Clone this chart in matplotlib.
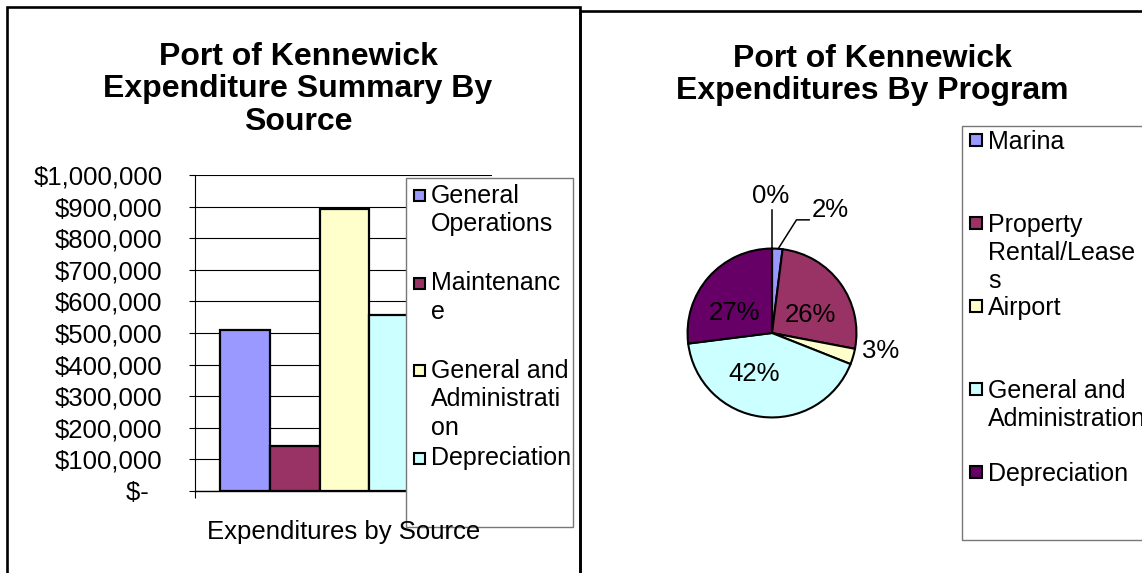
import numpy as np
import matplotlib
matplotlib.use("Agg")
import matplotlib.pyplot as plt
from matplotlib.patches import Rectangle
from matplotlib.ticker import FuncFormatter

plt.rcParams['font.family'] = ['Liberation Sans', 'DejaVu Sans']

# ---------------- data ----------------
bar_categories = ["General Operations", "Maintenance",
                  "General and Administration", "Depreciation"]
bar_legend_lines = [["General", "Operations"], ["Maintenanc", "e"],
                    ["General and", "Administrati", "on"], ["Depreciation"]]
bar_values = [510000, 140000, 894000, 557000]
bar_colors = ["#9999FF", "#993366", "#FFFFCC", "#CCFFFF"]
bar_title = "Port of Kennewick\nExpenditure Summary By\nSource"
bar_xlabel = "Expenditures by Source"
yticks = list(range(0, 1000001, 100000))

pie_categories = ["Marina", "Property Rental/Leases", "Airport",
                  "General and Administration", "Depreciation", ""]
pie_legend_lines = [["Marina"], ["Property", "Rental/Lease", "s"], ["Airport"],
                    ["General and", "Administration"], ["Depreciation"]]
pie_values = [2, 26, 3, 42, 27, 0]
pie_colors = ["#9999FF", "#993366", "#FFFFCC", "#CCFFFF", "#660066", "#FF8080"]
pie_title = "Port of Kennewick\nExpenditures By Program"

# label placement (style, in pie-radius units)
pie_label_xy = [(0.69, 1.46), (0.45, 0.21), (1.29, -0.21),
                (-0.21, -0.49), (-0.45, 0.24), (-0.02, 1.62)]
pie_leaders = {0: [(0.075, 1.0), (0.29, 1.34), (0.44, 1.34)],
               5: [(0.0, 0.98), (0.0, 1.46)]}

W, H = 1142, 573
fig = plt.figure(figsize=(W / 100, H / 100), dpi=100)


def fx(x):
    return x / W


def fy(y):
    return 1 - y / H


# panel borders
fig.add_artist(Rectangle((fx(7), fy(620)), fx(580) - fx(7), fy(7) - fy(620),
                         transform=fig.transFigure, fill=False,
                         edgecolor='black', linewidth=1.9, zorder=0))
fig.add_artist(Rectangle((fx(580), fy(620)), fx(1180) - fx(580), fy(11) - fy(620),
                         transform=fig.transFigure, fill=False,
                         edgecolor='black', linewidth=1.9, zorder=0))

# ---------------- bar chart ----------------
ax1 = fig.add_axes([fx(195), fy(490.6), fx(492) - fx(195), fy(175.4) - fy(490.6)])
ax1.bar(np.arange(len(bar_values)), bar_values, width=1.0, color=bar_colors,
        edgecolor='black', linewidth=1.6, zorder=3)
ax1.set_xlim(-1.0, 4.96)
ax1.set_ylim(0, 1000000)
ax1.set_yticks(yticks)
ax1.yaxis.set_major_formatter(FuncFormatter(
    lambda v, p: "$-  " if v == 0 else "${:,.0f}".format(v)))
ax1.yaxis.grid(True, color='black', linewidth=0.8)
ax1.set_axisbelow(True)
for s in ['top', 'right']:
    ax1.spines[s].set_visible(False)
ax1.spines['left'].set_linewidth(0.8)
ax1.spines['bottom'].set_linewidth(1.0)
ax1.tick_params(axis='y', length=4.3, width=0.8, pad=19, labelsize=18.5)
ax1.set_xticks([-1.0])
ax1.set_xticklabels([""])
ax1.tick_params(axis='x', length=5.2, width=0.8)

fig.text(fx(298), fy(89.5), bar_title, ha='center', va='center',
         fontsize=23, fontweight='bold', linespacing=1.12)

# left legend
fig.add_artist(Rectangle((fx(406), fy(526.5)), fx(573) - fx(406), fy(178.4) - fy(526.5),
                         transform=fig.transFigure, facecolor='white',
                         edgecolor='#777777', linewidth=1.0, zorder=2))
for i, (lines, col) in enumerate(zip(bar_legend_lines, bar_colors)):
    yc = 193.7 + i * 87.5
    fig.add_artist(Rectangle((fx(414), fy(yc + 2 + 5.5)), fx(11), 11 / H,
                             transform=fig.transFigure, facecolor=col,
                             edgecolor='black', linewidth=1.5, zorder=3))
    for j, t in enumerate(lines):
        fig.text(fx(431), fy(yc + j * 28.7 + 9), t, ha='left', va='baseline',
                 fontsize=18, zorder=3)

fig.text(fx(343.5), fy(531.8), bar_xlabel, ha='center', va='center',
         fontsize=18.5, zorder=4)

# ---------------- pie chart ----------------
ax2 = fig.add_axes([fx(620), fy(485), fx(924) - fx(620), fy(181) - fy(485)])
ax2.pie(pie_values, colors=pie_colors, startangle=90, counterclock=False,
        radius=1.0, wedgeprops=dict(edgecolor='black', linewidth=1.5))
ax2.set_xlim(-1.8, 1.8)
ax2.set_ylim(-1.8, 1.8)
ax2.set_aspect('equal')
ax2.axis('off')
total = sum(pie_values)
for i, v in enumerate(pie_values):
    x, y = pie_label_xy[i]
    ax2.text(x, y, "{:.0f}%".format(100 * v / total), ha='center', va='center',
             fontsize=18.5, color='black')
for i, pts in pie_leaders.items():
    xs, ys = zip(*pts)
    ax2.plot(xs, ys, color='black', linewidth=1.1, clip_on=False)

fig.text(fx(872), fy(75), pie_title, ha='center', va='center',
         fontsize=23, fontweight='bold', linespacing=1.12)

# right legend
fig.add_artist(Rectangle((fx(962), fy(540)), fx(1180) - fx(962), fy(126) - fy(540),
                         transform=fig.transFigure, facecolor='white',
                         edgecolor='#777777', linewidth=1.0, zorder=2))
for i, (lines, col) in enumerate(zip(pie_legend_lines, pie_colors)):
    yc = 140 + i * 83
    fig.add_artist(Rectangle((fx(970), fy(yc + 6)), fx(12), 12 / H,
                             transform=fig.transFigure, facecolor=col,
                             edgecolor='black', linewidth=1.5, zorder=3))
    for j, t in enumerate(lines):
        fig.text(fx(988), fy(yc + j * 28 + 9), t, ha='left', va='baseline',
                 fontsize=18, zorder=3)

fig.savefig("out.png", dpi=100, facecolor='white')
